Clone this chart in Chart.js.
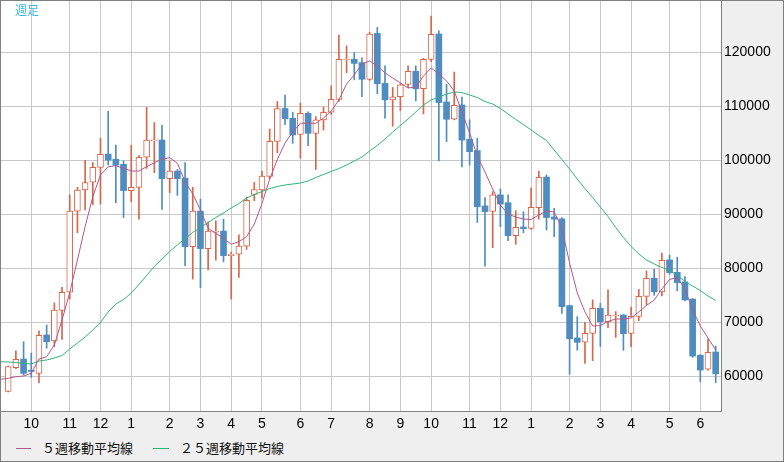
<!DOCTYPE html>
<html>
<head>
<meta charset="utf-8">
<script src="https://cdn.jsdelivr.net/npm/chart.js@4.4.0/dist/chart.umd.min.js"></script>
<style>
    body { margin: 0; background: #fff; }
    #frame {
        position: relative;
        width: 784px;
        height: 462px;
        box-sizing: border-box;
        border: 1px solid #808080;
        background: #efefef;
        overflow: hidden;
    }
    #chart { position: absolute; left: 0; top: 0; }
    #title {
        position: absolute;
        left: 14px;
        top: 3px;
        font: 12px/12px "Noto Sans CJK JP", sans-serif;
        color: #3db5e8;
    }
    .legend-line { position: absolute; height: 1px; }
    .legend-text {
        position: absolute;
        font: 13px/13px "Noto Sans CJK JP", sans-serif;
        color: #111;
        white-space: nowrap;
    }
</style>
</head>
<body>
<div id="frame">
    <canvas id="chart" width="782" height="435"></canvas>
    <div id="title">週足</div>
    <div id="legend"></div>
</div>
<script>
// weekly candles, one entry per week (x = week number)
const opens  = [57200, 61600, 63200, 61100, 60550, 67650, 66540, 72200, 75560, 90600,
                94500, 95930, 98700, 101150, 100200, 99260, 94400, 95000, 100560, 103600,
                103760, 96600, 98000, 96700, 84000, 90600, 83650, 86700, 86900, 82350,
                82600, 84100, 93700, 94500, 97000, 103500, 109600, 107800, 104800, 108700,
                105000, 107470, 108900, 111300, 118600, 118700, 118100, 115000, 123500, 114250,
                111200, 111800, 114070, 116500, 113250, 118700, 123400, 110800, 107600, 110250,
                103900, 101800, 91550, 90550, 93600, 92150, 86050, 87650, 87400, 91250,
                96900, 89500, 89150, 73100, 67100, 66300, 67950, 72600, 70100, 71250,
                71350, 67950, 71100, 74800, 78150, 75650, 81550, 79250, 77500, 74300,
                63900, 61300, 64500];
const highs  = [61900, 64700, 66400, 64300, 68400, 69500, 73600, 76500, 93600, 95000,
                100000, 99600, 104100, 109100, 102800, 99900, 102800, 100900, 109800, 107000,
                106500, 99900, 98300, 99600, 95000, 92800, 88600, 88800, 89100, 83000,
                86200, 93200, 95900, 98000, 105800, 110900, 112100, 108900, 110600, 109000,
                108100, 109850, 113800, 123200, 121200, 119950, 119000, 123700, 124600, 117500,
                113500, 114200, 117500, 117500, 118900, 126700, 124000, 114100, 116350, 111700,
                107500, 104100, 93100, 94200, 94700, 93600, 90700, 90500, 94900, 98000,
                97300, 91100, 89400, 73200, 71050, 70000, 74150, 73500, 76000, 72000,
                71400, 72800, 76100, 79500, 79800, 82800, 82450, 82050, 78450, 74400,
                64000, 66900, 65600];
const lows   = [57100, 61400, 60250, 59800, 58800, 65200, 65500, 66850, 74300, 86600,
                90800, 91800, 91900, 99150, 92150, 89400, 92300, 89100, 98500, 97700,
                90900, 94000, 93500, 80500, 78000, 76400, 79700, 81500, 81200, 74300,
                78300, 83500, 92500, 93000, 96600, 101400, 106600, 103150, 100400, 102700,
                98300, 105600, 108500, 110900, 116200, 114900, 111800, 114800, 112300, 107800,
                106300, 109200, 113400, 111000, 108600, 118250, 99900, 103450, 107500, 98800,
                99100, 88500, 80400, 83800, 87700, 85100, 84450, 86600, 87200, 89100,
                87100, 85850, 71650, 60400, 64850, 62400, 62900, 65500, 69000, 67200,
                64800, 65500, 70300, 73250, 75000, 74900, 78900, 75850, 73950, 63500,
                59000, 61150, 58800];
const closes = [61800, 63150, 60550, 60900, 67600, 66400, 72280, 75560, 90600, 94500,
                95900, 98700, 101100, 100050, 99100, 94400, 95000, 100560, 103760, 103800,
                96600, 98000, 96600, 84000, 90600, 83650, 86900, 86850, 82350, 82600,
                84130, 92600, 94600, 97100, 103500, 109600, 107700, 104700, 108700, 105000,
                107500, 108900, 111300, 118700, 118750, 117950, 115000, 123400, 114200, 111200,
                111750, 114000, 116500, 113250, 118700, 123350, 110700, 107600, 110200, 103750,
                101600, 91400, 90500, 93600, 91900, 86050, 87600, 87350, 91300, 96850,
                89400, 89100, 72900, 66950, 66300, 67950, 72600, 70100, 71350, 71350,
                67900, 71100, 74800, 78150, 75650, 81500, 79200, 77350, 74150, 63750,
                61150, 64450, 60450];

// moving averages, starting one week before the first candle
const ma5  = [59440, 59630, 59930, 60050, 60550, 63200, 63630, 65800, 70430, 75480,
              81540, 87700, 93260, 97280, 98800, 99000, 98520, 98020, 98020, 98820,
              99560, 100190, 100490, 99450, 96040, 93760, 90800, 87410, 86480, 85560,
              84450, 84930, 85850, 88200, 92000, 96500, 100170, 103210, 105240, 106860,
              106910, 106860, 107840, 109130, 111170, 114130, 115800, 117840, 118390, 117470,
              116180, 115250, 114330, 113400, 113590, 115620, 117100, 115990, 114700, 112850,
              108960, 105070, 100810, 97830, 94680, 91720, 90050, 89490, 89120, 89040,
              89870, 90610, 90430, 87460, 80990, 75430, 71920, 69320, 69400, 70150,
              70610, 70610, 70800, 71910, 73110, 74130, 76170, 77930, 78300, 76170,
              72280, 69320, 67090, 64870];
const ma25 = [62700, 62650, 62560, 62370, 62280, 62830, 63020, 63390, 63850, 65060,
              66170, 67280, 68570, 69960, 71910, 73390, 74220, 75430, 77000, 78670,
              80340, 81720, 83110, 84320, 85520, 86630, 87560, 88480, 89410, 90240,
              91170, 92000, 93020, 93670, 94220, 94780, 95150, 95430, 95610, 95800,
              96170, 96820, 97370, 97930, 98480, 99130, 99870, 100610, 101720, 102740,
              103950, 105240, 106450, 107650, 108950, 110240, 111170, 111730, 112280, 112650,
              112560, 112100, 111630, 110890, 110430, 109600, 108580, 107560, 106630, 105620,
              104600, 103670, 101910, 100150, 98390, 96540, 94780, 93110, 91350, 89590,
              87560, 85710, 84040, 82650, 81540, 80800, 80150, 79590, 78760, 77560,
              76720, 75890, 74870, 74040];

// month boundaries on the x axis
const monthTicks  = [3, 8, 12, 16, 21, 25, 29, 33, 38, 42, 47, 51, 55, 60, 64, 68, 73, 77, 81, 86, 90];
const monthLabels = ['10', '11', '12', '1', '2', '3', '4', '5', '6', '7',
                     '8', '9', '10', '11', '12', '1', '2', '3', '4', '5', '6'];
const yTicks = [60000, 70000, 80000, 90000, 100000, 110000, 120000];

const seriesNames = ['５週移動平均線', '２５週移動平均線'];

const upColor = '#d8664a';
const downColor = '#4f8dc1';
const ma5Color = '#b2598c';
const ma25Color = '#2eb57b';
const gridColor = '#c8c8c8';
const frameColor = '#808080';
const tickFont = { family: 'Liberation Sans', size: 14 };

// split candles into rising / falling bodies and wicks
const upBodies = [], downBodies = [], upWicks = [], downWicks = [];
opens.forEach((o, i) => {
    const c = closes[i];
    const body = { x: i, y: [o, c] };
    const wick = { x: i, y: [lows[i], highs[i]] };
    if (c >= o) {
        upBodies.push(body);
        upWicks.push(wick);
    } else {
        downBodies.push(body);
        downWicks.push(wick);
    }
});

const plotBackground = {
    id: 'plotBackground',
    beforeDraw(chart) {
        const { ctx, chartArea: a } = chart;
        ctx.save();
        ctx.fillStyle = '#ffffff';
        ctx.fillRect(a.left, a.top, a.right - a.left, a.bottom - a.top);
        ctx.restore();
    }
};

// no extra room around the plot for half-labels
const noPadding = axis => {
    axis.paddingTop = 0;
    axis.paddingBottom = 0;
    axis.paddingLeft = 0;
    axis.paddingRight = 0;
};

const ctx = document.getElementById('chart').getContext('2d');
new Chart(ctx, {
    type: 'bar',
    data: {
        datasets: [
            {
                type: 'line', label: seriesNames[0],
                data: ma5.map((v, i) => ({ x: i - 1, y: v })),
                borderColor: ma5Color, borderWidth: 1, pointRadius: 0, tension: 0, fill: false
            },
            {
                type: 'line', label: seriesNames[1],
                data: ma25.map((v, i) => ({ x: i - 1, y: v })),
                borderColor: ma25Color, borderWidth: 1, pointRadius: 0, tension: 0, fill: false
            },
            {
                label: 'up', data: upBodies, grouped: false, barThickness: 6,
                backgroundColor: '#ffffff', borderColor: upColor, borderWidth: 1, borderSkipped: false
            },
            {
                label: 'down', data: downBodies, grouped: false, barThickness: 6,
                backgroundColor: downColor, borderWidth: 0
            },
            {
                label: 'upWick', data: upWicks, grouped: false, barThickness: 1,
                backgroundColor: upColor, borderWidth: 0
            },
            {
                label: 'downWick', data: downWicks, grouped: false, barThickness: 1,
                backgroundColor: downColor, borderWidth: 0
            }
        ]
    },
    options: {
        responsive: false,
        animation: false,
        layout: { padding: 0, autoPadding: false },
        plugins: {
            legend: { display: false },
            tooltip: { enabled: false }
        },
        scales: {
            x: {
                type: 'linear',
                min: -0.936,
                max: 92.69,
                offset: false,
                grid: { color: gridColor, drawTicks: false, offset: false },
                border: { color: frameColor },
                ticks: {
                    autoSkip: false, maxRotation: 0, padding: 5,
                    font: tickFont, color: '#000',
                    callback: (value, index) => monthLabels[index]
                },
                afterBuildTicks: axis => { axis.ticks = monthTicks.map(v => ({ value: v })); },
                afterFit: axis => { axis.height = 25; noPadding(axis); }
            },
            y: {
                position: 'right',
                min: 53573,
                max: 129506,
                grid: { color: gridColor, drawTicks: false },
                border: { color: frameColor },
                ticks: {
                    padding: 3, font: tickFont, color: '#000',
                    callback: value => String(value)
                },
                afterBuildTicks: axis => { axis.ticks = yTicks.map(v => ({ value: v })); },
                afterFit: axis => { axis.width = 62; noPadding(axis); }
            }
        }
    },
    plugins: [plotBackground]
});

// legend below the chart
const legendItems = [
    { name: seriesNames[0], color: ma5Color, lineLeft: 15, lineWidth: 15, textLeft: 41 },
    { name: seriesNames[1], color: ma25Color, lineLeft: 152, lineWidth: 16, textLeft: 179 }
];
document.getElementById('legend').innerHTML = legendItems.map(item => `
    <div class="legend-line" style="left:${item.lineLeft}px;top:447px;width:${item.lineWidth}px;background:${item.color}"></div>
    <div class="legend-text" style="left:${item.textLeft}px;top:440px">${item.name}</div>
`).join('');
</script>
</body>
</html>
